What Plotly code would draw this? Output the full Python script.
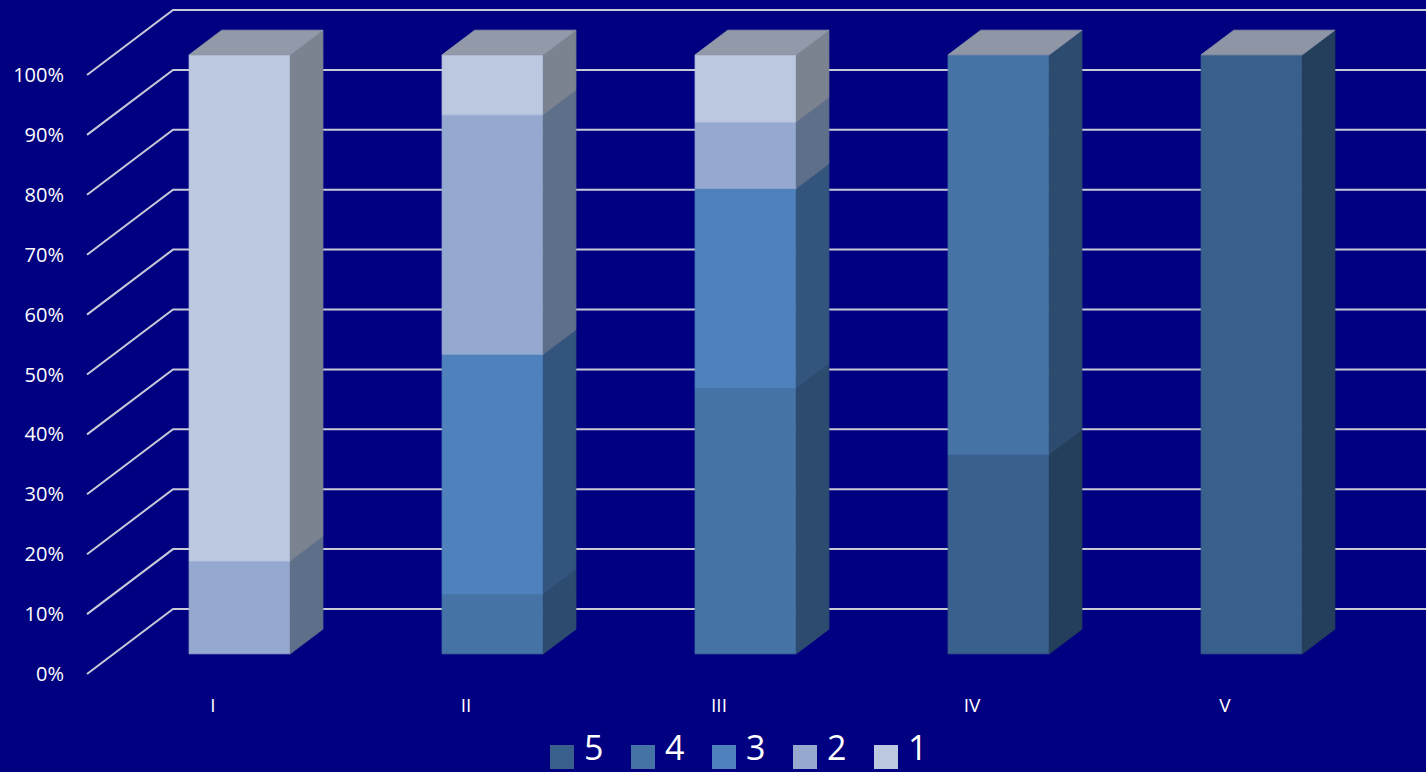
import plotly.graph_objects as go

# ---- data ----
categories = ["I", "II", "III", "IV", "V"]
series_names = ["5", "4", "3", "2", "1"]          # bottom -> top in each stack
s5 = [0, 0, 0, 33.3, 100]
s4 = [0, 10, 44.4, 66.7, 0]
s3 = [0, 40, 33.3, 0, 0]
s2 = [15.5, 40, 11.1, 0, 0]
s1 = [84.5, 10, 11.2, 0, 0]
y_ticks = [0, 10, 20, 30, 40, 50, 60, 70, 80, 90, 100]
y_tick_labels = [f"{v}%" for v in y_ticks]

# ---- styles ----
front_colors = ["#39608C", "#4573A5", "#4F81BD", "#95A9D0", "#BCC8E0"]
side_colors = ["#243F5B", "#2D4B6E", "#32547D", "#5E6F89", "#7B8290"]
top_colors = ["#8E96A6", "#8F97A7", "#9098A8", "#9098A8", "#9299A9"]
BG = "#000080"
GRID = "#C8CAD8"
FONT = "Open Sans"

# figure / plot-area geometry (pixels)
W, H = 1426, 772
ML, MB = 75, 84
PW, PH = W - ML, H - MB

# 3D geometry in data units
DX = 0.340      # full depth, x
DY = 10.85      # full depth, y (%)
F0, F1 = 0.31, 0.69   # bar front / back depth fractions
BW = 0.40       # bar width
X_FLOOR_LEFT = -0.498
X_RIGHT = 4.7945
Y_RANGE = [(674 - PH) / 5.99, 674 / 5.99]

all_series = [s5, s4, s3, s2, s1]

fig = go.Figure()

# gridlines (back wall + floor diagonals)
for v in y_ticks:
    fig.add_trace(go.Scatter(
        x=[X_FLOOR_LEFT, X_FLOOR_LEFT + DX, X_RIGHT],
        y=[v, v + DY, v + DY],
        mode="lines", line=dict(color=GRID, width=2),
        showlegend=False, hoverinfo="skip"))

# bars
for ci, cat in enumerate(categories):
    vals = [s[ci] for s in all_series]
    tot = sum(vals)
    vals = [v * 100.0 / tot for v in vals]
    xl = ci - BW / 2 + F0 * DX
    xr = ci + BW / 2 + F0 * DX
    ox = (F1 - F0) * DX
    dyf = F0 * DY
    dyb = F1 * DY
    base = 0.0
    top_idx = max(i for i, v in enumerate(vals) if v > 0)
    for si, v in enumerate(vals):
        if v <= 0:
            continue
        y0 = base + dyf
        y1 = base + v + dyf
        # front face
        fig.add_trace(go.Scatter(
            x=[xl, xr, xr, xl, xl], y=[y0, y0, y1, y1, y0],
            mode="lines", fill="toself", fillcolor=front_colors[si],
            line=dict(color=front_colors[si], width=0.8),
            showlegend=False, hoverinfo="skip"))
        # side face
        yb0 = base + dyb
        yb1 = base + v + dyb
        fig.add_trace(go.Scatter(
            x=[xr, xr + ox, xr + ox, xr, xr], y=[y0, yb0, yb1, y1, y0],
            mode="lines", fill="toself", fillcolor=side_colors[si],
            line=dict(color=side_colors[si], width=0.8),
            showlegend=False, hoverinfo="skip"))
        if si == top_idx:
            fig.add_trace(go.Scatter(
                x=[xl, xr, xr + ox, xl + ox, xl], y=[y1, y1, yb1, yb1, y1],
                mode="lines", fill="toself", fillcolor=top_colors[si],
                line=dict(color=top_colors[si], width=0.8),
                showlegend=False, hoverinfo="skip"))
        base += v

# manual legend (large squares + labels), positioned in paper coords
def px_x(X):
    return (X - ML) / PW

def px_y(Y):
    return (PH - Y) / PH

LEG_X0, LEG_STEP, SQ = 550, 81, 24
LEG_Y0 = 745
shapes, annotations = [], []
for si, name in enumerate(series_names):
    x0 = LEG_X0 + si * LEG_STEP
    shapes.append(dict(type="rect", xref="paper", yref="paper",
                       x0=px_x(x0), x1=px_x(x0 + SQ),
                       y0=px_y(LEG_Y0 + SQ), y1=px_y(LEG_Y0),
                       fillcolor=front_colors[si], line=dict(width=0)))
    annotations.append(dict(xref="paper", yref="paper",
                            x=px_x(x0 + SQ + 9), y=px_y(771),
                            xanchor="left", yanchor="bottom", showarrow=False,
                            borderpad=0,
                            text=name, font=dict(size=34, color="white", family=FONT)))

fig.update_layout(
    width=W, height=H,
    paper_bgcolor=BG, plot_bgcolor=BG,
    margin=dict(l=ML, r=0, t=0, b=MB),
    font=dict(family=FONT, color="white"),
    xaxis=dict(range=[-0.5455, X_RIGHT], showgrid=False, zeroline=False,
               showline=False, tickmode="array", tickvals=list(range(len(categories))),
               ticktext=categories, tickfont=dict(size=19, color="white"),
               ticks="outside", ticklen=0, tickcolor="rgba(0,0,0,0)"),
    yaxis=dict(range=Y_RANGE, showgrid=False, zeroline=False,
               showline=False, tickmode="array", tickvals=y_ticks,
               ticktext=y_tick_labels, tickfont=dict(size=20, color="white"),
               ticks="outside", ticklen=6, tickcolor="rgba(0,0,0,0)"),
    shapes=shapes,
    annotations=annotations,
    showlegend=False,
)

fig.write_html("out.html",
               config={"displayModeBar": False},
               post_script="document.body.style.margin='0';"
                           "document.body.style.background='#000080';")
